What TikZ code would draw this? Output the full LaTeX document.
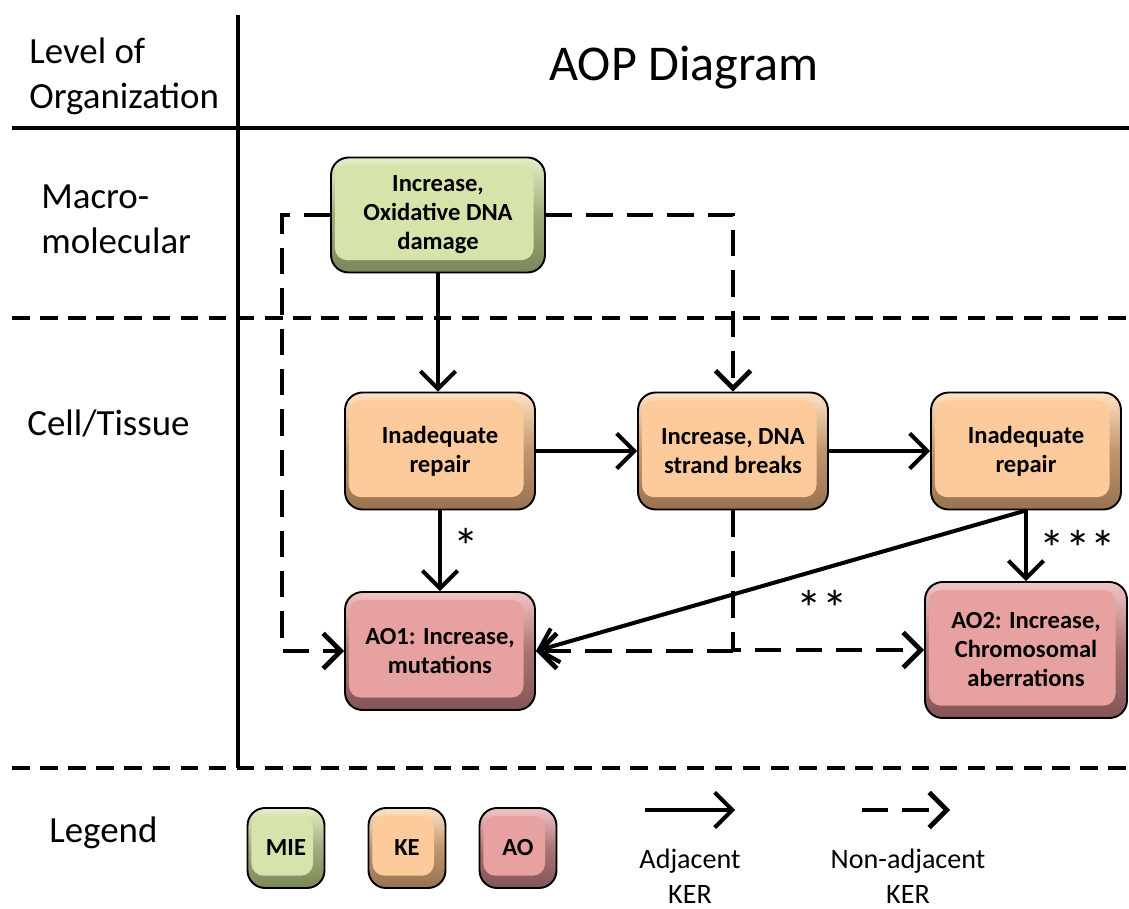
\documentclass[tikz,border=0pt]{standalone}
\usepackage{fontspec}
\setmainfont{Carlito}
\usetikzlibrary{arrows.meta}

\definecolor{miefill}{HTML}{D6E4AB}
\definecolor{mieedge}{HTML}{7A875A}
\definecolor{mietop}{HTML}{E6EFC6}
\definecolor{kefill}{HTML}{FDCB9B}
\definecolor{keedge}{HTML}{987250}
\definecolor{ketop}{HTML}{FFE2C4}
\definecolor{aofill}{HTML}{E8A1A1}
\definecolor{aoedge}{HTML}{835555}
\definecolor{aotop}{HTML}{F4C4C4}

\tikzset{
  evbox/.style n args={3}{draw=black, line width=1.1pt, rounded corners=10pt,
    top color=#3, bottom color=#2, middle color=#2!60!#1,
    align=center, inner sep=0pt, font=\bfseries\fontsize{14}{16.5}\selectfont,
    path picture={\fill[#1, rounded corners=7pt]
      ([shift={(2.2pt,-4.5pt)}]path picture bounding box.north west) rectangle
      ([shift={(-6.5pt,7pt)}]path picture bounding box.south east);}},
  mie/.style={evbox={miefill}{mieedge}{mietop}},
  ke/.style={evbox={kefill}{keedge}{ketop}},
  ao/.style={evbox={aofill}{aoedge}{aotop}},
  adj/.style={line width=2.3pt, -{Straight Barb[length=10pt,width=20pt]}},
  nonadj/.style={adj, line width=2.7pt, dash pattern=on 15pt off 8pt},
  divider/.style={line width=1.8pt, dash pattern=on 10pt off 6pt},
  lvl/.style={anchor=west, align=left, inner sep=0pt, font=\fontsize{21}{25.5}\selectfont},
  stars/.style={font=\fontsize{29}{29}\selectfont},
  kertext/.style={align=center, inner sep=0pt, font=\fontsize{16}{20}\selectfont},
}

\begin{document}
\begin{tikzpicture}[x=0.02cm, y=-0.02cm]
    \useasboundingbox (0,0) rectangle (1129,909);

    % frame
    \draw[line width=2.2pt] (238,15) -- (238,768);
    \draw[line width=2.2pt] (12,128) -- (1129,128);
    \draw[divider] (12,318) -- (1129,318);
    \draw[divider] (12,768) -- (1129,768);

    \node[lvl] (lvltitle) at (29,76) {Level of\\Organization};
    \node[font=\fontsize{28.5}{32}\selectfont] (title) at (684,68) {AOP Diagram};
    \node[lvl] (macro) at (41,219) {Macro-\\molecular};
    \node[lvl] (cell) at (27,423) {Cell/Tissue};
    \node[lvl] (legend) at (49,833) {Legend};

    % events
    \node[mie, minimum width=4.28cm, minimum height=2.3cm] (mie) at (438,215) {Increase,\\Oxidative DNA\\damage};
    \node[ke, minimum width=3.8cm, minimum height=2.34cm] (ke1) at (440,451) {Inadequate\\repair};
    \node[ke, minimum width=3.8cm, minimum height=2.34cm] (ke2) at (733,451) {Increase, DNA\\strand breaks};
    \node[ke, minimum width=3.8cm, minimum height=2.34cm] (ke3) at (1026,451) {Inadequate\\repair};
    \node[ao, minimum width=3.8cm, minimum height=2.36cm] (ao1) at (440,651) {AO1: Increase,\\mutations};
    \node[ao, minimum width=4.04cm, minimum height=2.72cm] (ao2) at (1026,650) {AO2: Increase,\\Chromosomal\\aberrations};

    % adjacent KERs
    \draw[adj] (mie.south) -- (mie.south |- ke1.north);
    \draw[adj] (ke1) -- (ke2);
    \draw[adj] (ke2) -- (ke3);
    \draw[adj] (ke1.south) -- (ke1.south |- ao1.north);
    \draw[adj] (ke3.south) -- (ke3.south |- ao2.north);
    \draw[adj] (ke3.south) -- (ao1.east);

    \node[stars] (s1) at (466,546) {*};
    \node[stars] (s2) at (822,608) {**};
    \node[stars] (s3) at (1078,548) {***};

    % non-adjacent KERs
    \coordinate (lcorner) at (282,651);
    \coordinate (mcorner) at (733,651);
    \draw[nonadj] (mie.west) -| (lcorner) -- (ao1.west);
    \draw[nonadj] (mie.east) -| (ke2.north);
    \draw[nonadj] (ke2.south) |- (ao2.west);
    \draw[nonadj] (mcorner) -- (ao1.east);

    % legend
    \node[mie, minimum width=1.54cm, minimum height=1.6cm] (legmie) at (286,848) {MIE};
    \node[ke, minimum width=1.54cm, minimum height=1.6cm] (legke) at (407,848) {KE};
    \node[ao, minimum width=1.54cm, minimum height=1.6cm] (legao) at (518,848) {AO};

    \coordinate (adja) at (645,810);
    \coordinate (adjb) at (735,810);
    \coordinate (nadja) at (862,810);
    \coordinate (nadjb) at (950,810);
    \draw[adj] (adja) -- (adjb);
    \draw[nonadj] (nadja) -- (nadjb);
    \node[kertext] (adjtxt) at (690,876) {Adjacent\\KER};
    \node[kertext] (nadjtxt) at (908,876) {Non-adjacent\\KER};
\end{tikzpicture}
\end{document}
